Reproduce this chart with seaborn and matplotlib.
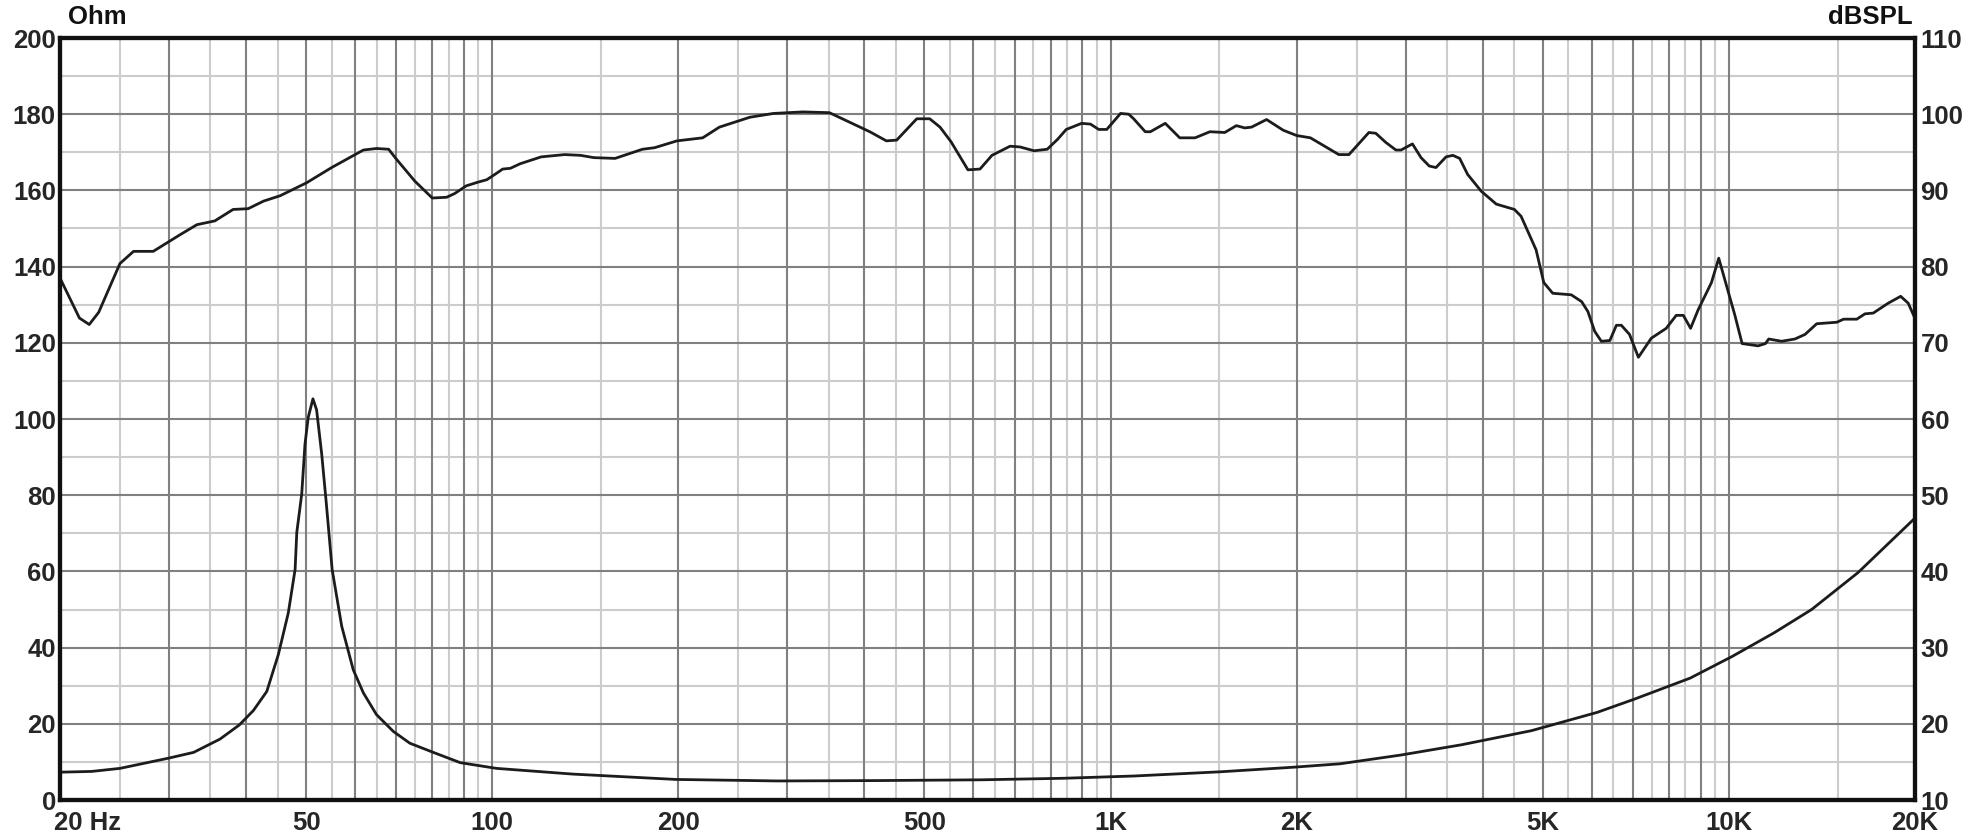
import numpy as np
import pandas as pd
import matplotlib
matplotlib.use('Agg')
import matplotlib.pyplot as plt
import matplotlib.transforms as mtransforms
import seaborn as sns

### DATA

# SPL response (right axis, dBSPL)
spl_freq = [20, 21.5, 22.3, 23.1, 25, 26.3, 28.3, 31.3, 33.3, 35.6,
            38.1, 40.3, 42.7, 45.4, 50.1, 55, 61.9, 65, 68, 70,
            75, 80, 84.4, 87, 90.8, 95, 98, 101, 104, 107,
            111, 120, 131, 139, 146, 158, 175, 183, 199, 219,
            233, 261, 285, 318, 351, 408, 434, 451, 486, 510,
            530, 552, 588, 615, 643, 688, 714, 752, 790, 821,
            848, 898, 928, 957, 986, 1038, 1070, 1090, 1138, 1160,
            1226, 1294, 1370, 1448, 1530, 1598, 1648, 1690, 1788, 1902,
            2000, 2105, 2340, 2430, 2617, 2685, 2787, 2894, 2950, 3078,
            3178, 3277, 3360, 3488, 3578, 3670, 3780, 3976, 4206, 4500,
            4613, 4878, 5020, 5190, 5560, 5780, 5916, 6068, 6220, 6420,
            6578, 6700, 6908, 7140, 7490, 7920, 8220, 8440, 8672, 8916,
            9372, 9630, 10220, 10506, 11150, 11460, 11600, 12170, 12790, 13280,
            13870, 14950, 15330, 16100, 16600, 17120, 18100, 18960, 19500, 20000]
spl_db = [78.5, 73.25, 72.4, 74.0, 80.4, 82.0, 82.0, 84.2, 85.5, 86.0,
          87.5, 87.6, 88.6, 89.3, 91.0, 93.0, 95.3, 95.5, 95.4, 94.1,
          91.2, 89.0, 89.1, 89.6, 90.6, 91.1, 91.4, 92.1, 92.8, 92.9,
          93.5, 94.4, 94.7, 94.6, 94.3, 94.2, 95.4, 95.6, 96.5, 96.9,
          98.3, 99.6, 100.1, 100.3, 100.2, 97.7, 96.5, 96.6, 99.4, 99.4,
          98.3, 96.4, 92.7, 92.8, 94.6, 95.8, 95.7, 95.2, 95.4, 96.7,
          98.0, 98.8, 98.7, 98.0, 98.0, 100.1, 100.0, 99.4, 97.7, 97.7,
          98.8, 96.9, 96.9, 97.7, 97.6, 98.5, 98.2, 98.3, 99.3, 97.9,
          97.2, 96.9, 94.7, 94.7, 97.6, 97.5, 96.3, 95.3, 95.3, 96.1,
          94.3, 93.2, 93.0, 94.4, 94.6, 94.2, 92.1, 89.9, 88.2, 87.5,
          86.6, 82.2, 77.9, 76.5, 76.3, 75.4, 74.1, 71.5, 70.2, 70.3,
          72.3, 72.3, 71.1, 68.1, 70.6, 71.9, 73.6, 73.6, 71.9, 74.3,
          77.9, 81.1, 73.7, 69.9, 69.6, 69.9, 70.5, 70.2, 70.5, 71.1,
          72.5, 72.7, 73.1, 73.1, 73.8, 73.9, 75.2, 76.1, 75.2, 73.2]

# impedance (left axis, Ohm)
imp_freq = [20, 22.5, 25, 30, 32.9, 36.3, 39.0, 41.1, 43.2, 45.1,
            46.8, 48.0, 48.3, 49.2, 49.8, 50.4, 51.3, 52.0, 53.0, 53.9,
            55.1, 57.1, 59.6, 61.9, 65, 69.2, 73.6, 80.3, 88.8, 101.6,
            135, 198, 289, 422, 618, 838, 1092, 1504, 1974, 2350,
            2948, 3696, 4796, 6124, 7042, 8660, 10130, 11840, 13610, 16180, 20000]
imp_ohm = [7.3, 7.5, 8.3, 11.0, 12.5, 16.0, 19.7, 23.5, 28.5, 38.2,
           49.1, 60.5, 70.2, 80.3, 93.4, 100.4, 105.3, 102.4, 90.8, 78.1,
           60.5, 45.6, 34.2, 28.1, 22.4, 18.0, 14.9, 12.5, 9.8, 8.3,
           6.8, 5.4, 5.0, 5.1, 5.3, 5.7, 6.3, 7.4, 8.6, 9.5,
           11.8, 14.5, 18.2, 23.0, 26.5, 32.0, 37.7, 43.9, 50.0, 59.7, 74.0]

# tick labels
x_ticks = [20, 50, 100, 200, 500, 1000, 2000, 5000, 10000, 20000]
x_labels = ['20 Hz', '50', '100', '200', '500', '1K', '2K', '5K', '10K', '20K']
ohm_ticks = list(range(0, 201, 20))
db_ticks = list(range(10, 111, 10))

### STYLE

sns.set_style('white')
plt.rcParams['font.family'] = ['Liberation Sans', 'DejaVu Sans']
plt.rcParams['font.weight'] = 'bold'

line_color = '#1c1c1c'
dark_grid = '#808080'
light_grid = '#cccccc'
fsize = 18.5

### PLOT

fig = plt.figure(figsize=(19.75, 8.38), dpi=100)
ax = fig.add_axes([60 / 1975, 38 / 838, 1855 / 1975, 762 / 838])
ax2 = ax.twinx()

ax.set_xscale('log')
ax.set_xlim(20, 20000)
ax.set_ylim(0, 200)
ax2.set_ylim(10, 110)

# grid: dark at 1..9 x 10^k, light at the halves
for k in range(1, 5):
    for d in range(1, 10):
        f = d * 10 ** k
        if 20 < f < 20000:
            ax.axvline(f, color=dark_grid, lw=1.5, zorder=1)
        f2 = (d + 0.5) * 10 ** k
        if 20 < f2 < 20000:
            ax.axvline(f2, color=light_grid, lw=1.5, zorder=0.5)
for v in range(10, 200, 10):
    ax.axhline(v, color=dark_grid if v % 20 == 0 else light_grid,
               lw=1.5, zorder=1 if v % 20 == 0 else 0.5)

# curves
df_imp = pd.DataFrame({'freq': imp_freq, 'ohm': imp_ohm})
df_spl = pd.DataFrame({'freq': spl_freq, 'db': spl_db})

sns.lineplot(data=df_imp, x='freq', y='ohm', ax=ax, color=line_color,
             lw=2.0, sort=False, estimator=None, zorder=3)
sns.lineplot(data=df_spl, x='freq', y='db', ax=ax2, color=line_color,
             lw=2.0, sort=False, estimator=None, zorder=3)

# ticks
ax.set_xticks(x_ticks)
ax.set_xticklabels(x_labels)
ax.xaxis.set_minor_locator(matplotlib.ticker.NullLocator())
ax.set_yticks(ohm_ticks)
ax2.set_yticks(db_ticks)
ax.tick_params(axis='x', length=0, pad=8, labelsize=fsize)
ax.tick_params(axis='y', length=0, pad=3, labelsize=fsize)
ax2.tick_params(axis='y', length=0, pad=4, labelsize=fsize)
for lbl in ax.get_xticklabels() + ax.get_yticklabels() + ax2.get_yticklabels():
    lbl.set_fontweight('bold')

# first x label sits to the right of its tick
first = ax.get_xticklabels()[0]
first.set_horizontalalignment('left')
first.set_transform(first.get_transform() +
                    mtransforms.ScaledTranslation(-6 / 100, 0, fig.dpi_scale_trans))

ax.set_xlabel('')
ax.set_ylabel('')
ax2.set_ylabel('')

# frame
for a in (ax, ax2):
    for s in a.spines.values():
        s.set_linewidth(3)
        s.set_color('#111111')
        s.set_zorder(5)

# axis unit labels
ax.text(0.0045, 1.012, 'Ohm', transform=ax.transAxes, ha='left', va='bottom',
        fontsize=fsize, fontweight='bold', color='#111111')
ax.text(0.9985, 1.012, 'dBSPL', transform=ax.transAxes, ha='right', va='bottom',
        fontsize=fsize, fontweight='bold', color='#111111')

plt.savefig('out.png', dpi=100)
